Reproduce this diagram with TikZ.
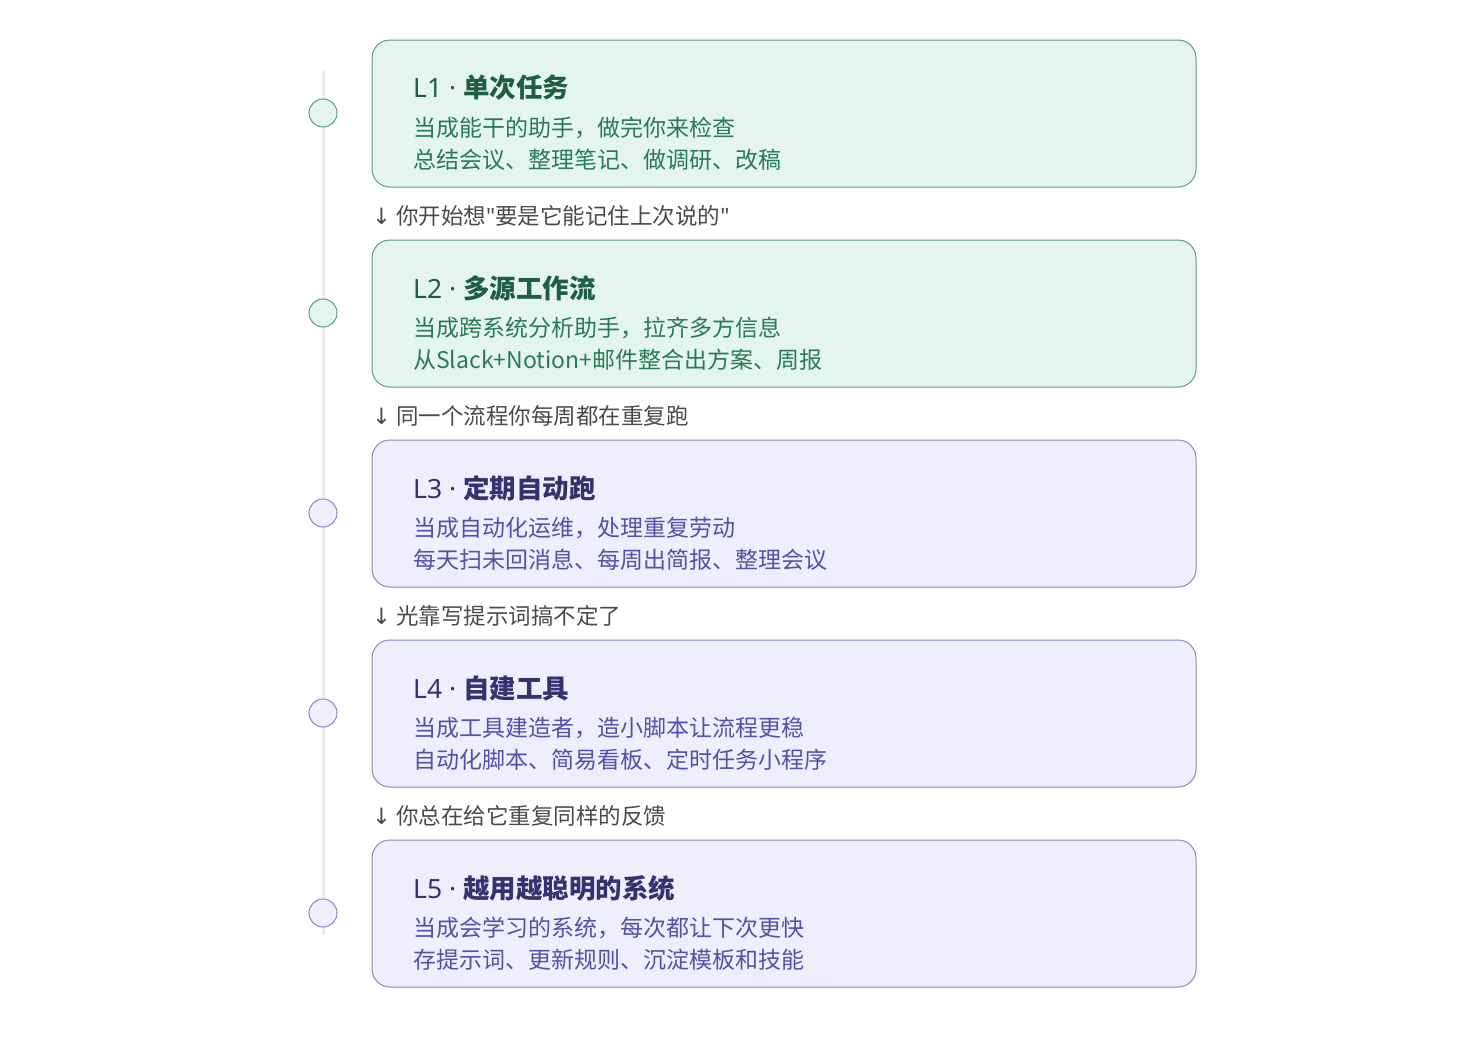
\documentclass[tikz,border=0pt]{standalone}
\usepackage{fontspec}
\setmainfont{Noto Sans CJK SC}
\newfontfamily\lat{Noto Sans}
\newfontfamily\arr{DejaVu Sans}
\definecolor{gfill}{HTML}{E3F5EE}
\definecolor{gdraw}{HTML}{5E9C80}
\definecolor{gtext}{HTML}{1F5E45}
\definecolor{gsub}{HTML}{2A7A5A}
\definecolor{pfill}{HTML}{EEEEFC}
\definecolor{pdraw}{HTML}{8A86C2}
\definecolor{ptext}{HTML}{373170}
\definecolor{psub}{HTML}{5650A8}
\definecolor{ttext}{HTML}{4A4A4A}
\tikzset{x=1pt,y=-1pt,
 card/.style={draw=#1,line width=1pt,rounded corners=18pt},
 dot/.style={circle,draw=#1,line width=1pt,minimum size=28pt,inner sep=0pt},
 ttl/.style={anchor=west,font=\fontsize{26.5}{30}\selectfont\bfseries,inner sep=0pt},
 sub/.style={anchor=west,font=\fontsize{23}{26}\selectfont,inner sep=0pt},
 trans/.style={anchor=west,font=\fontsize{22.5}{26}\selectfont,text=ttext,inner sep=0pt}}
\begin{document}
\begin{tikzpicture}
\useasboundingbox (0,0) rectangle (1472,1060);
\draw[line width=3pt,draw=black!8] (323,70) -- (323,935);
\foreach \i/\n/\t/\a/\b/\f/\d/\tc/\sc in {
 0/1/单次任务/当成能干的助手，做完你来检查/总结会议、整理笔记、做调研、改稿/gfill/gdraw/gtext/gsub,
 1/2/多源工作流/当成跨系统分析助手，拉齐多方信息/从Slack+Notion+邮件整合出方案、周报/gfill/gdraw/gtext/gsub,
 2/3/定期自动跑/当成自动化运维，处理重复劳动/每天扫未回消息、每周出简报、整理会议/pfill/pdraw/ptext/psub,
 3/4/自建工具/当成工具建造者，造小脚本让流程更稳/自动化脚本、简易看板、定时任务小程序/pfill/pdraw/ptext/psub,
 4/5/越用越聪明的系统/当成会学习的系统，每次都让下次更快/存提示词、更新规则、沉淀模板和技能/pfill/pdraw/ptext/psub}{
 \pgfmathsetmacro\yy{40+200*\i}
 \draw[card=\d,fill=\f] (372,\yy) rectangle (1196,\yy+147);
 \node[dot=\d,fill=\f] (c\i) at (323,\yy+73) {};
 \node[ttl,text=\tc] (t\i) at (413,\yy+48) {{\lat L\n\ ·\ }\t};
 \node[sub,text=\sc] (a\i) at (413,\yy+88) {\a};
 \node[sub,text=\sc] (b\i) at (413,\yy+120) {\b};
}
\node[trans] (r1) at (372,216) {{\arr ↓} 你开始想{\lat "}要是它能记住上次说的{\lat "}};
\node[trans] (r2) at (372,416) {{\arr ↓} 同一个流程你每周都在重复跑};
\node[trans] (r3) at (372,616) {{\arr ↓} 光靠写提示词搞不定了};
\node[trans] (r4) at (372,816) {{\arr ↓} 你总在给它重复同样的反馈};
\end{tikzpicture}
\end{document}
